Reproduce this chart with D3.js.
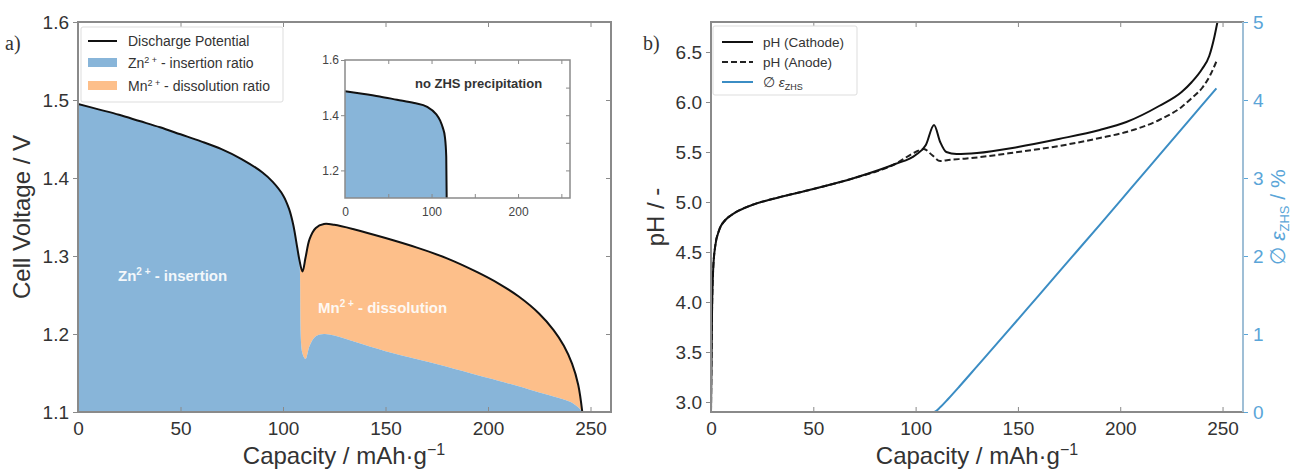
<!DOCTYPE html>
<html>
<head>
<meta charset="utf-8">
<script src="https://cdn.jsdelivr.net/npm/d3@7"></script>
<style>
  body { margin: 0; background: #fff; }
  svg text { font-family: "Liberation Sans", Arial, sans-serif; }
</style>
</head>
<body>
<div id="chart"></div>
<script>
// ---- data (a): discharge, capacity in mAh/g ----
var capA = [0, 10, 20, 30, 40, 50, 60, 70, 80, 90, 95, 100, 103, 105, 107, 108, 109.5, 111, 113, 116, 120, 125, 135, 150, 165, 180, 195, 205, 215, 225, 232, 237, 241, 244, 246];
var voltage = [1.495, 1.488, 1.481, 1.473, 1.465, 1.456, 1.447, 1.437, 1.424, 1.407, 1.395, 1.378, 1.36, 1.34, 1.31, 1.295, 1.28, 1.298, 1.322, 1.336, 1.341, 1.340, 1.334, 1.323, 1.311, 1.297, 1.279, 1.265, 1.248, 1.226, 1.205, 1.185, 1.162, 1.135, 1.10];
var znTop = [1.495, 1.488, 1.481, 1.473, 1.465, 1.456, 1.447, 1.437, 1.424, 1.407, 1.395, 1.378, 1.36, 1.34, 1.31, 1.295, 1.175, 1.168, 1.185, 1.197, 1.200, 1.198, 1.190, 1.178, 1.168, 1.158, 1.147, 1.140, 1.133, 1.125, 1.120, 1.116, 1.112, 1.106, 1.10];

// inset: no ZHS precipitation
var capInset = [0, 20, 40, 60, 80, 95, 105, 110, 113, 115.5, 117, 117.5];
var voltInset = [1.487, 1.478, 1.468, 1.456, 1.444, 1.43, 1.405, 1.38, 1.355, 1.32, 1.25, 1.10];

// ---- data (b): pH and ZHS ----
var capCath = [0, 0.5, 1, 2, 4, 7, 10, 20, 30, 50, 70, 90, 100, 105, 109, 112, 115, 120, 130, 150, 170, 190, 203, 219, 230, 235, 240, 243.5, 246, 247.5];
var phCath = [2.9, 3.9, 4.3, 4.55, 4.72, 4.82, 4.87, 4.97, 5.03, 5.13, 5.24, 5.38, 5.47, 5.57, 5.77, 5.6, 5.5, 5.48, 5.49, 5.55, 5.63, 5.72, 5.80, 5.96, 6.10, 6.2, 6.33, 6.46, 6.65, 6.8];
var capAnode = [0, 0.5, 1, 2, 4, 7, 10, 20, 30, 50, 70, 90, 100, 104, 108, 112, 116, 125, 150, 170, 190, 203, 219, 230, 235, 240, 244, 247.5];
var phAnode = [2.9, 3.9, 4.3, 4.55, 4.72, 4.82, 4.87, 4.97, 5.03, 5.13, 5.24, 5.38, 5.5, 5.53, 5.47, 5.41, 5.42, 5.435, 5.5, 5.56, 5.64, 5.7, 5.82, 5.95, 6.04, 6.14, 6.27, 6.43];
var capZhs = [0, 109, 112, 116, 121.5, 130, 146, 160, 176, 190, 205, 219, 233, 247];
var epsZhs = [0, 0, 0.06, 0.17, 0.33, 0.585, 1.065, 1.49, 1.975, 2.4, 2.86, 3.29, 3.72, 4.15];

var xTicks = [0, 50, 100, 150, 200, 250];
var vTicks = [1.1, 1.2, 1.3, 1.4, 1.5, 1.6];
var phTicks = [3.0, 3.5, 4.0, 4.5, 5.0, 5.5, 6.0, 6.5];
var epsTicks = [0, 1, 2, 3, 4, 5];

var blue = "#88b5d9", orange = "#fdbf8a", lineBlue = "#3b8dc4", axBlue = "#5aa5d8";
var frame = "#8a8a8a", txt = "#333";
var smooth = d3.curveCatmullRom.alpha(0.5);

var svg = d3.select("#chart").append("svg")
    .attr("width", 1293)
    .attr("height", 472);

var defs = svg.append("defs");

function frameBox(g, x0, x1, y0, y1, rightColor) {
  g.append("rect").attr("x", x0).attr("y", y0).attr("width", x1 - x0).attr("height", y1 - y0)
    .attr("fill", "none").attr("stroke", frame).attr("stroke-width", 2);
  if (rightColor) {
    g.append("line").attr("x1", x1).attr("x2", x1).attr("y1", y0).attr("y2", y1)
      .attr("stroke", rightColor).attr("stroke-width", 2);
  }
}

// ================= panel a =================
var xA = d3.scaleLinear().domain([0, 260]).range([78, 611]);
var yA = d3.scaleLinear().domain([1.1, 1.6]).range([412, 22]);

defs.append("clipPath").attr("id", "clipA").append("rect")
    .attr("x", 78).attr("y", 22).attr("width", 533).attr("height", 390);

var gA = svg.append("g");
var plotA = gA.append("g").attr("clip-path", "url(#clipA)");

var rowsA = capA.map(function(c, i) { return {c: c, v: voltage[i], z: znTop[i]}; });

plotA.append("path").datum(rowsA)
    .attr("fill", orange)
    .attr("d", d3.area().curve(smooth)
      .x(function(d) { return xA(d.c); })
      .y0(function(d) { return yA(d.z); })
      .y1(function(d) { return yA(d.v); }));

plotA.append("path").datum(rowsA)
    .attr("fill", blue)
    .attr("d", d3.area().curve(smooth)
      .x(function(d) { return xA(d.c); })
      .y0(yA(1.1))
      .y1(function(d) { return yA(d.z); }));

plotA.append("path").datum(rowsA)
    .attr("fill", "none").attr("stroke", "#111").attr("stroke-width", 2)
    .attr("d", d3.line().curve(smooth)
      .x(function(d) { return xA(d.c); })
      .y(function(d) { return yA(d.v); }));

// region labels
var lblZn = gA.append("text").attr("x", 118).attr("y", 281)
    .attr("fill", "#fff").attr("font-size", 15).attr("font-weight", "bold").attr("opacity", 0.9);
lblZn.append("tspan").text("Zn");
lblZn.append("tspan").attr("dy", -6).attr("font-size", 10).text("2 +");
lblZn.append("tspan").attr("dy", 6).text(" - insertion");

var lblMn = gA.append("text").attr("x", 318).attr("y", 313)
    .attr("fill", "#fff").attr("font-size", 15).attr("font-weight", "bold").attr("opacity", 0.9);
lblMn.append("tspan").text("Mn");
lblMn.append("tspan").attr("dy", -6).attr("font-size", 10).text("2 +");
lblMn.append("tspan").attr("dy", 6).text(" - dissolution");

// axes a
gA.append("g").attr("transform", "translate(0,412)")
    .call(d3.axisBottom(xA).tickValues(xTicks).tickSize(-5).tickPadding(10))
    .call(function(g) { g.select(".domain").remove(); g.selectAll("line").attr("stroke", frame); g.selectAll("text").attr("font-size", 19).attr("fill", txt); });
gA.append("g").attr("transform", "translate(0,22)")
    .call(d3.axisTop(xA).tickValues(xTicks).tickSize(-5).tickFormat(""))
    .call(function(g) { g.select(".domain").remove(); g.selectAll("line").attr("stroke", frame); });
gA.append("g").attr("transform", "translate(78,0)")
    .call(d3.axisLeft(yA).tickValues(vTicks).tickSize(5).tickPadding(4).tickFormat(d3.format(".1f")))
    .call(function(g) { g.select(".domain").remove(); g.selectAll("line").attr("stroke", frame); g.selectAll("text").attr("font-size", 19).attr("fill", txt); });
gA.append("g").attr("transform", "translate(611,0)")
    .call(d3.axisRight(yA).tickValues(vTicks).tickSize(-5).tickFormat(""))
    .call(function(g) { g.select(".domain").remove(); g.selectAll("line").attr("stroke", frame); });
frameBox(gA, 78, 611, 22, 412);

var xlabA = gA.append("text").attr("x", 344).attr("y", 464).attr("text-anchor", "middle")
    .attr("font-size", 24).attr("fill", txt);
xlabA.append("tspan").text("Capacity / mAh\u00b7g");
xlabA.append("tspan").attr("dy", -9).attr("font-size", 16).text("\u22121");

gA.append("text").attr("transform", "translate(30,217) rotate(-90)").attr("text-anchor", "middle")
    .attr("font-size", 24).attr("fill", txt).text("Cell Voltage / V");

gA.append("text").attr("x", 5).attr("y", 50)
    .style("font-family", "'Liberation Serif', serif").attr("font-size", 20).attr("fill", txt).text("a)");

// legend a
var legA = gA.append("g");
legA.append("rect").attr("x", 81).attr("y", 27).attr("width", 202).attr("height", 75)
    .attr("fill", "#fff").attr("stroke", "#ddd").attr("stroke-width", 1).attr("rx", 2);
legA.append("line").attr("x1", 88).attr("x2", 117).attr("y1", 41).attr("y2", 41).attr("stroke", "#111").attr("stroke-width", 2);
legA.append("rect").attr("x", 88).attr("y", 58).attr("width", 29).attr("height", 9).attr("fill", blue);
legA.append("rect").attr("x", 88).attr("y", 81).attr("width", 29).attr("height", 9).attr("fill", orange);
legA.append("text").attr("x", 128).attr("y", 46).attr("font-size", 14).attr("fill", txt).text("Discharge Potential");
var lz = legA.append("text").attr("x", 128).attr("y", 68).attr("font-size", 14).attr("fill", txt);
lz.append("tspan").text("Zn");
lz.append("tspan").attr("dy", -5).attr("font-size", 9).text("2 +");
lz.append("tspan").attr("dy", 5).text(" - insertion ratio");
var lm = legA.append("text").attr("x", 128).attr("y", 91).attr("font-size", 14).attr("fill", txt);
lm.append("tspan").text("Mn");
lm.append("tspan").attr("dy", -5).attr("font-size", 9).text("2 +");
lm.append("tspan").attr("dy", 5).text(" - dissolution ratio");

// inset
var xI = d3.scaleLinear().domain([0, 260]).range([345, 570]);
var yI = d3.scaleLinear().domain([1.1, 1.6]).range([198, 60]);
defs.append("clipPath").attr("id", "clipI").append("rect")
    .attr("x", 345).attr("y", 60).attr("width", 225).attr("height", 138);
var gI = gA.append("g");
gI.append("rect").attr("x", 345).attr("y", 60).attr("width", 225).attr("height", 138).attr("fill", "#fff");
var rowsI = capInset.map(function(c, i) { return {c: c, v: voltInset[i]}; });
var plotI = gI.append("g").attr("clip-path", "url(#clipI)");
plotI.append("path").datum(rowsI).attr("fill", blue)
    .attr("d", d3.area().curve(d3.curveMonotoneX)
      .x(function(d) { return xI(d.c); }).y0(yI(1.1)).y1(function(d) { return yI(d.v); }));
plotI.append("path").datum(rowsI).attr("fill", "none").attr("stroke", "#111").attr("stroke-width", 2)
    .attr("d", d3.line().curve(d3.curveMonotoneX)
      .x(function(d) { return xI(d.c); }).y(function(d) { return yI(d.v); }));

var insetMinorX = [50, 100, 150, 200, 250];
var insetMinorY = [1.2, 1.3, 1.4, 1.5];
gI.append("g").attr("transform", "translate(0,198)")
    .call(d3.axisBottom(xI).tickValues(insetMinorX).tickSize(-4).tickFormat(""))
    .call(function(g) { g.select(".domain").remove(); g.selectAll("line").attr("stroke", frame); });
gI.append("g").attr("transform", "translate(0,198)")
    .call(d3.axisBottom(xI).tickValues([0, 100, 200]).tickSize(0).tickPadding(9))
    .call(function(g) { g.select(".domain").remove(); g.selectAll("text").attr("font-size", 12).attr("fill", "#444"); });
gI.append("g").attr("transform", "translate(0,60)")
    .call(d3.axisTop(xI).tickValues(insetMinorX).tickSize(-4).tickFormat(""))
    .call(function(g) { g.select(".domain").remove(); g.selectAll("line").attr("stroke", frame); });
gI.append("g").attr("transform", "translate(345,0)")
    .call(d3.axisLeft(yI).tickValues([1.2, 1.4, 1.6]).tickSize(4).tickPadding(2).tickFormat(d3.format(".1f")))
    .call(function(g) { g.select(".domain").remove(); g.selectAll("line").attr("stroke", frame); g.selectAll("text").attr("font-size", 12).attr("fill", "#444"); });
gI.append("g").attr("transform", "translate(570,0)")
    .call(d3.axisRight(yI).tickValues(insetMinorY).tickSize(-4).tickFormat(""))
    .call(function(g) { g.select(".domain").remove(); g.selectAll("line").attr("stroke", frame); });
gI.append("rect").attr("x", 345).attr("y", 60).attr("width", 225).attr("height", 138)
    .attr("fill", "none").attr("stroke", frame).attr("stroke-width", 1.5);
gI.append("text").attr("x", 415).attr("y", 88).attr("font-size", 13).attr("font-weight", "bold")
    .attr("fill", "#333").text("no ZHS precipitation");

// ================= panel b =================
var xB = d3.scaleLinear().domain([0, 260]).range([711, 1243]);
var yB = d3.scaleLinear().domain([2.9, 6.8]).range([412, 22]);
var yE = d3.scaleLinear().domain([0, 5]).range([412, 22]);

defs.append("clipPath").attr("id", "clipB").append("rect")
    .attr("x", 711).attr("y", 22).attr("width", 532).attr("height", 390);

var gB = svg.append("g");
var plotB = gB.append("g").attr("clip-path", "url(#clipB)");

var rowsZ = capZhs.map(function(c, i) { return {c: c, e: epsZhs[i]}; });
var rowsC = capCath.map(function(c, i) { return {c: c, p: phCath[i]}; });
var rowsN = capAnode.map(function(c, i) { return {c: c, p: phAnode[i]}; });

plotB.append("path").datum(rowsZ).attr("fill", "none").attr("stroke", lineBlue).attr("stroke-width", 2)
    .attr("d", d3.line().curve(d3.curveMonotoneX)
      .x(function(d) { return xB(d.c); }).y(function(d) { return yE(d.e); }));
plotB.append("path").datum(rowsN).attr("fill", "none").attr("stroke", "#222").attr("stroke-width", 2)
    .attr("stroke-dasharray", "6,3")
    .attr("d", d3.line().curve(d3.curveMonotoneX)
      .x(function(d) { return xB(d.c); }).y(function(d) { return yB(d.p); }));
plotB.append("path").datum(rowsC).attr("fill", "none").attr("stroke", "#111").attr("stroke-width", 2)
    .attr("d", d3.line().curve(d3.curveMonotoneX)
      .x(function(d) { return xB(d.c); }).y(function(d) { return yB(d.p); }));

gB.append("g").attr("transform", "translate(0,412)")
    .call(d3.axisBottom(xB).tickValues(xTicks).tickSize(-5).tickPadding(10))
    .call(function(g) { g.select(".domain").remove(); g.selectAll("line").attr("stroke", frame); g.selectAll("text").attr("font-size", 19).attr("fill", txt); });
gB.append("g").attr("transform", "translate(0,22)")
    .call(d3.axisTop(xB).tickValues(xTicks).tickSize(-5).tickFormat(""))
    .call(function(g) { g.select(".domain").remove(); g.selectAll("line").attr("stroke", frame); });
gB.append("g").attr("transform", "translate(711,0)")
    .call(d3.axisLeft(yB).tickValues(phTicks).tickSize(5).tickPadding(4).tickFormat(d3.format(".1f")))
    .call(function(g) { g.select(".domain").remove(); g.selectAll("line").attr("stroke", frame); g.selectAll("text").attr("font-size", 19).attr("fill", txt); });
gB.append("g").attr("transform", "translate(1243,0)")
    .call(d3.axisRight(yE).tickValues(epsTicks).tickSize(5).tickPadding(5).tickFormat(d3.format("d")))
    .call(function(g) { g.select(".domain").remove(); g.selectAll("line").attr("stroke", axBlue); g.selectAll("text").attr("font-size", 19).attr("fill", axBlue); });
frameBox(gB, 711, 1243, 22, 412, "#9fbfd6");

var xlabB = gB.append("text").attr("x", 977).attr("y", 464).attr("text-anchor", "middle")
    .attr("font-size", 24).attr("fill", txt);
xlabB.append("tspan").text("Capacity / mAh\u00b7g");
xlabB.append("tspan").attr("dy", -9).attr("font-size", 16).text("\u22121");

gB.append("text").attr("transform", "translate(664,217) rotate(-90)").attr("text-anchor", "middle")
    .attr("font-size", 24).attr("fill", txt).text("pH / -");

var ylabE = gB.append("text").attr("transform", "translate(1285,217) rotate(-90)").attr("text-anchor", "middle")
    .attr("font-size", 21).attr("fill", axBlue);
ylabE.append("tspan").text("\u2205 ");
ylabE.append("tspan").attr("font-style", "italic").text("\u03b5");
ylabE.append("tspan").attr("dy", 4).attr("font-size", 13).text("ZHS");
ylabE.append("tspan").attr("dy", -4).text("  /  %");

gB.append("text").attr("x", 643).attr("y", 50)
    .style("font-family", "'Liberation Serif', serif").attr("font-size", 20).attr("fill", txt).text("b)");

// legend b
var legB = gB.append("g");
legB.append("rect").attr("x", 713).attr("y", 26).attr("width", 144).attr("height", 69)
    .attr("fill", "#fff").attr("stroke", "#ddd").attr("stroke-width", 1).attr("rx", 2);
legB.append("line").attr("x1", 722).attr("x2", 753).attr("y1", 42).attr("y2", 42).attr("stroke", "#111").attr("stroke-width", 2);
legB.append("line").attr("x1", 722).attr("x2", 753).attr("y1", 62).attr("y2", 62).attr("stroke", "#222").attr("stroke-width", 2).attr("stroke-dasharray", "6,3");
legB.append("line").attr("x1", 722).attr("x2", 753).attr("y1", 82).attr("y2", 82).attr("stroke", lineBlue).attr("stroke-width", 2);
legB.append("text").attr("x", 763).attr("y", 47).attr("font-size", 13.5).attr("fill", txt).text("pH (Cathode)");
legB.append("text").attr("x", 763).attr("y", 67).attr("font-size", 13.5).attr("fill", txt).text("pH (Anode)");
var le = legB.append("text").attr("x", 763).attr("y", 87).attr("font-size", 13.5).attr("fill", txt);
le.append("tspan").text("\u2205 ");
le.append("tspan").attr("font-style", "italic").text("\u03b5");
le.append("tspan").attr("dy", 3).attr("font-size", 9).text("ZHS");
</script>
</body>
</html>
